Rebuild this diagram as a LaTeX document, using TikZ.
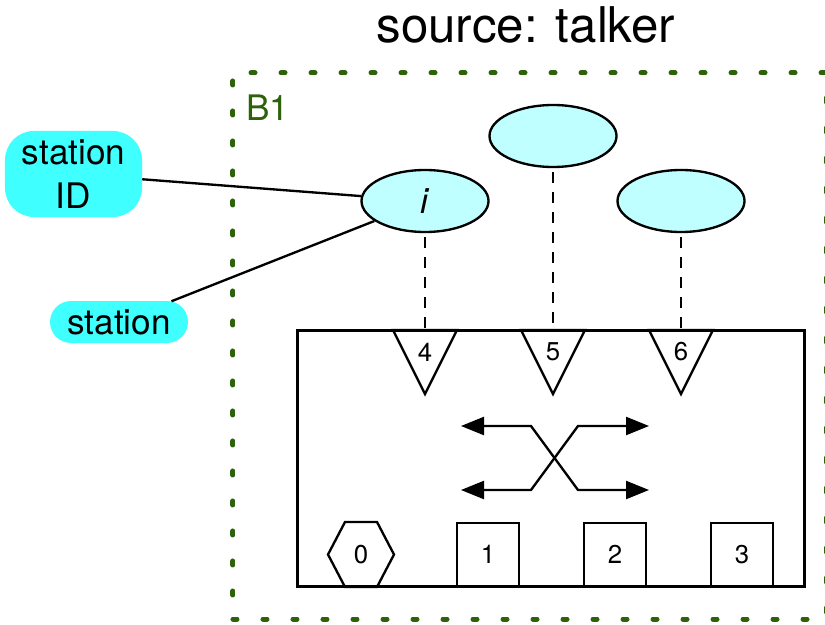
\documentclass[tikz,border=0pt]{standalone}
\usepackage{fontspec}
\setmainfont{TeX Gyre Heros}
\usetikzlibrary{arrows.meta,shapes.geometric,shapes.misc}
\definecolor{attrcyan}{RGB}{64,255,255}
\definecolor{streamcyan}{RGB}{191,255,255}
\definecolor{bgreen}{RGB}{45,98,10}
\newcommand{\ttlfnt}{\fontsize{42}{46}\selectfont}
\newcommand{\lblfnt}{\fontsize{30}{37}\selectfont}
\newcommand{\numfnt}{\fontsize{22}{24}\selectfont}
\tikzset{
    talker diagram/.style = {x=0.03cm, y=-0.03cm,
                             >={Triangle[length=0.69cm, width=0.54cm]}},
    line/.style        = {line width=2pt},
    stream/.style      = {draw, line width=2pt, fill=streamcyan, ellipse,
                          minimum width=3.81cm, minimum height=1.86cm,
                          inner sep=0pt, font=\lblfnt},
    attr/.style        = {fill=attrcyan, rounded rectangle, inner sep=0pt,
                          font=\lblfnt, align=center},
    port/.style        = {draw, line width=2pt, minimum width=1.86cm,
                          minimum height=1.89cm, inner sep=0pt, font=\numfnt},
    num/.style         = {font=\numfnt, inner sep=0pt},
    link/.style        = {line, dash pattern=on 0.33cm off 0.27cm,
                          dash phase=0.48cm},
    enclosure/.style   = {draw=bgreen, line width=0.15cm, line cap=round,
                          dash pattern=on 0.12cm off 0.78cm}
}
\begin{document}
\begin{tikzpicture}[talker diagram]
\useasboundingbox (0,0) rectangle (825,624);

% Title and bridge enclosure
\node[font=\ttlfnt, anchor=base] (title) at (526,43) {source: talker};
\node[enclosure, minimum width=17.79cm, minimum height=16.38cm]
    (b1) at (529.5,346) {};
\node[font=\lblfnt, text=bgreen, anchor=base west, inner sep=0pt]
    (b1name) at (246,121) {B1};

% Switch box with its ports
\node[draw, line width=2pt, minimum width=15.2cm, minimum height=7.68cm]
    (sw) at (551,458.5) {};
\node[num] (hx0) at (361,554.5) {0};
\draw[line] (hx0) ++(-33,0) -- ++(17,-32.5) -- ++(32,0) -- ++(17,32.5)
    -- ++(-17,32.5) -- ++(-32,0) -- cycle;
\foreach \n/\x in {1/488, 2/615, 3/742}
    \node[port] (sq\n) at (\x,554.5) {\n};

% Streams above the listener ports
\node[stream] (e4) at (425,201) {\textit{i}};
\node[stream] (e5) at (553,136) {};
\node[stream] (e6) at (681,201) {};
\foreach \n/\x in {4/425, 5/553, 6/681} {
    \node[num] (p\n) at (\x,352) {\n};
    \draw[line] (p\n) ++(-32,-22) -- ++(64,0) -- ++(-32,64) -- cycle;
    \draw[link] (e\n.south) -- (p\n |- sw.north);
}

% Crossing arrows
\draw[line, <->] (461,426) -- (531,426) -- (578,490) -- (649,490);
\draw[line, <->] (461,490) -- (531,490) -- (578,426) -- (649,426);

% Attributes of the first stream
\node[attr, rectangle, rounded corners=0.87cm, minimum width=4.11cm,
      minimum height=2.58cm] (sid) at (73.5,174) {station\\ID};
\node[attr, minimum width=4.14cm, minimum height=1.26cm]
    (st) at (119,322) {station};
\draw[line] (sid) -- (e4);
\draw[line] (st) -- (e4);

\end{tikzpicture}
\end{document}
